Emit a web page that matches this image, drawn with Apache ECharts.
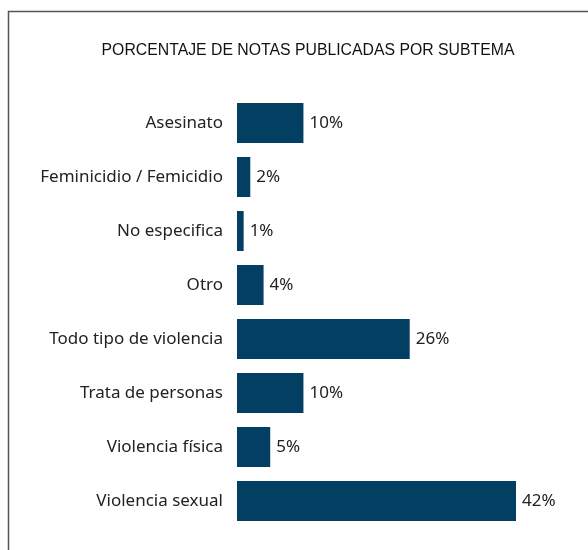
<!DOCTYPE html>
<html>
<head>
<meta charset="utf-8">
<script src="https://cdn.jsdelivr.net/npm/echarts@6/dist/echarts.min.js"></script>
<style>
html,body{margin:0;padding:0;background:#fff;}
#chart{width:588px;height:550px;}
</style>
</head>
<body>
<div id="chart"></div>
<script>
const categories = ["Asesinato","Feminicidio / Femicidio","No especifica","Otro","Todo tipo de violencia","Trata de personas","Violencia física","Violencia sexual"];
const values = [10, 2, 1, 4, 26, 10, 5, 42];
const titleText = "PORCENTAJE DE NOTAS PUBLICADAS POR SUBTEMA";

const chart = echarts.init(document.getElementById('chart'), null, {renderer:'canvas'});
chart.setOption({
  animation:false,
  backgroundColor:'#fff',
  title:{
    text:titleText,
    left:303, top:38, textAlign:'center',
    textStyle:{fontFamily:'Liberation Sans', fontSize:15.8, fontWeight:'normal', color:'#111'}
  },
  graphic:[
    {type:'polyline', shape:{points:[[8.5,550],[8.5,11.5],[588,11.5]]}, style:{stroke:'#555', lineWidth:1.5, fill:null}}
  ],
  grid:{left:237, top:96, width:279, height:432, containLabel:false},
  xAxis:{type:'value', min:0, max:42, show:false},
  yAxis:{
    type:'category', data:categories, inverse:true,
    axisLine:{show:false}, axisTick:{show:false},
    axisLabel:{margin:14, fontFamily:'Noto Sans', fontSize:17, color:'#222'}
  },
  series:[{
    type:'bar', data:values, barCategoryGap:'26%',
    itemStyle:{color:'#033e63'},
    label:{show:true, position:'right', distance:6, formatter:'{c}%', fontFamily:'Noto Sans', fontSize:17, color:'#222'}
  }]
});
</script>
</body>
</html>
